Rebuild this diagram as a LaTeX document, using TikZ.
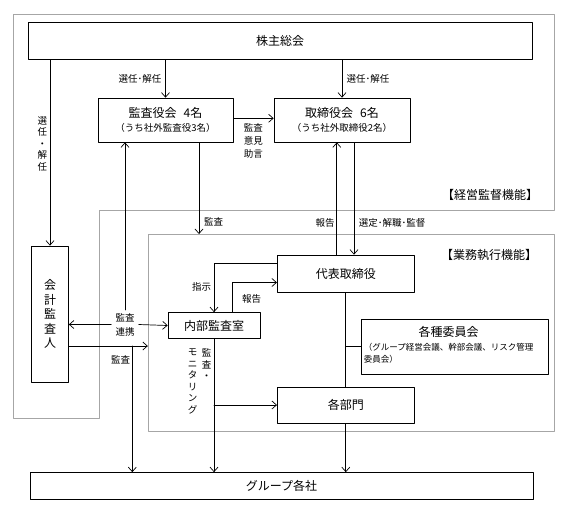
\documentclass[tikz,border=0pt]{standalone}
\usepackage{fontspec}
\setmainfont{Noto Sans CJK JP}
\usetikzlibrary{arrows.meta}

\begin{document}
\begin{tikzpicture}[line cap=round,line join=round,>={Straight Barb[length=4.5pt,width=8pt]},x=1pt,y=-1pt,
  box/.style={draw,line width=0.7pt,inner sep=0pt,align=center,font=\fontsize{12}{14.5}\selectfont},
  lbl/.style={inner sep=1pt,align=center,font=\fontsize{9.5}{11.5}\selectfont},
  frame/.style={draw=black!35,line width=1pt,inner sep=0pt},
  conn/.style={line width=0.7pt}]
\useasboundingbox (0,0) rectangle (567,506);
\draw[frame] (13,14) -- (554,14) -- (554,210) -- (99.3,210) -- (99.3,418.3) -- (13,418.3) -- cycle;
\node[frame,minimum width=405.7,minimum height=197] (exec) at (351.15,333) {};
\node[font=\fontsize{12}{14}\selectfont] (supervision) at (490,195) {【経営監督機能】};
\node[font=\fontsize{12}{14}\selectfont] (execution) at (489,255) {【業務執行機能】};
\node[box,minimum width=504,minimum height=37] (gm) at (280,41) {株主総会};
\node[box,minimum width=135,minimum height=44] (kansa) at (165.5,120) {監査役会\hspace{7pt}4名\\{\fontsize{9.5}{11}\selectfont （うち社外監査役3名）}};
\node[box,minimum width=136,minimum height=44] (torishimari) at (342,120) {取締役会\hspace{7pt}6名\\{\fontsize{9.5}{11}\selectfont （うち社外取締役2名）}};
\node[box,minimum width=37,minimum height=136] (kaikei) at (50,314) {会\\計\\監\\査\\人};
\node[box,minimum width=137,minimum height=37] (daihyo) at (345.8,273.5) {代表取締役};
\node[box,minimum width=92,minimum height=26] (naibu) at (214,325.5) {内部監査室};
\node[box,minimum width=187,minimum height=55] (iinkai) at (455,346.5) {\begin{tabular}{@{}l@{\hspace{13pt}}}
  \multicolumn{1}{@{}c@{\hspace{13pt}}}{各種委員会}\\
  {\fontsize{8.5}{12}\selectfont （グループ経営会議、幹部会議、リスク管理}\\[-2.5pt]
  {\fontsize{8.5}{12}\selectfont 委員会）}
\end{tabular}};
\node[box,minimum width=137,minimum height=36] (bumon) at (345.8,405) {各部門};
\node[box,minimum width=503,minimum height=27] (group) at (281.5,486) {グループ各社};
\node[lbl] (lsenA) at (140,79) {選任･解任};
\node[lbl] (lsenB) at (368,79) {選任･解任};
\node[lbl] (lsenC) at (42.3,144) {選\\任\\・\\解\\任};
\node[lbl,font=\fontsize{9.5}{13}\selectfont] (liken) at (253.3,141) {監査\\意見\\助言};
\node[lbl,anchor=west] (lkansaA) at (203,222) {監査};
\node[lbl] (lhoukokuA) at (325,223) {報告};
\node[lbl] (lsentei) at (392,223) {選定･解職･監督};
\node[lbl,inner xsep=4pt,inner ysep=3pt,font=\fontsize{9.5}{14}\selectfont] (renkei) at (125,324.5) {監査\\連携};
\node[lbl] (lkansaB) at (120.7,359.3) {監査};
\node[lbl] (lshiji) at (201.7,286.7) {指示};
\node[lbl] (lhoukokuB) at (251.7,299) {報告};
\node[lbl] (lkansaC) at (206.7,364.5) {監\\査\\・};
\node[lbl] (lmonitor) at (192.7,381.5) {モ\\ニ\\タ\\リ\\ン\\グ};
\draw[conn,->] (kansa.north |- gm.south) -- (kansa.north);
\draw[conn,->] (torishimari.north |- gm.south) -- (torishimari.north);
\draw[conn,->] (kaikei.north |- gm.south) -- (kaikei.north);
\draw[conn,->] ([yshift=1.7pt]kansa.east) -- ([yshift=1.7pt]torishimari.west);
\draw[conn,->] ([xshift=33.5pt]kansa.south) -- ([xshift=33.5pt]kansa.south |- exec.north);
\draw[conn,->] ([xshift=-9pt]daihyo.north) -- ([xshift=-9pt]daihyo.north |- torishimari.south);
\draw[conn,->] ([xshift=8.2pt]daihyo.north |- torishimari.south) -- ([xshift=8.2pt]daihyo.north);
\draw[conn,->] (renkei.north) -- (renkei.north |- kansa.south);
\draw[conn,->] (renkei.west) -- (renkei.west -| kaikei.east);
\draw[conn,->] (renkei.east) -- (naibu.west);
\coordinate (kout) at ([yshift=-32pt]kaikei.east);
\coordinate (kbr) at (132.3,346);
\draw[conn,->] (kout) -- (kout -| exec.west);
\draw[conn,->] (kbr) -- (kbr |- group.north);
\draw[conn,->] ([yshift=10pt]daihyo.west) -| (naibu.north);
\draw[conn,->] ([xshift=18.3pt]naibu.north) |- ([yshift=-9pt]daihyo.west);
\draw[conn,->] (naibu.south) -- (naibu.south |- group.north);
\draw[conn,->] (naibu.south |- bumon.west) -- (bumon.west);
\draw[conn] (daihyo.south) -- (bumon.north);
\draw[conn] (daihyo.south |- iinkai.west) -- (iinkai.west);
\draw[conn,->] (bumon.south) -- (bumon.south |- group.north);
\end{tikzpicture}
\end{document}
